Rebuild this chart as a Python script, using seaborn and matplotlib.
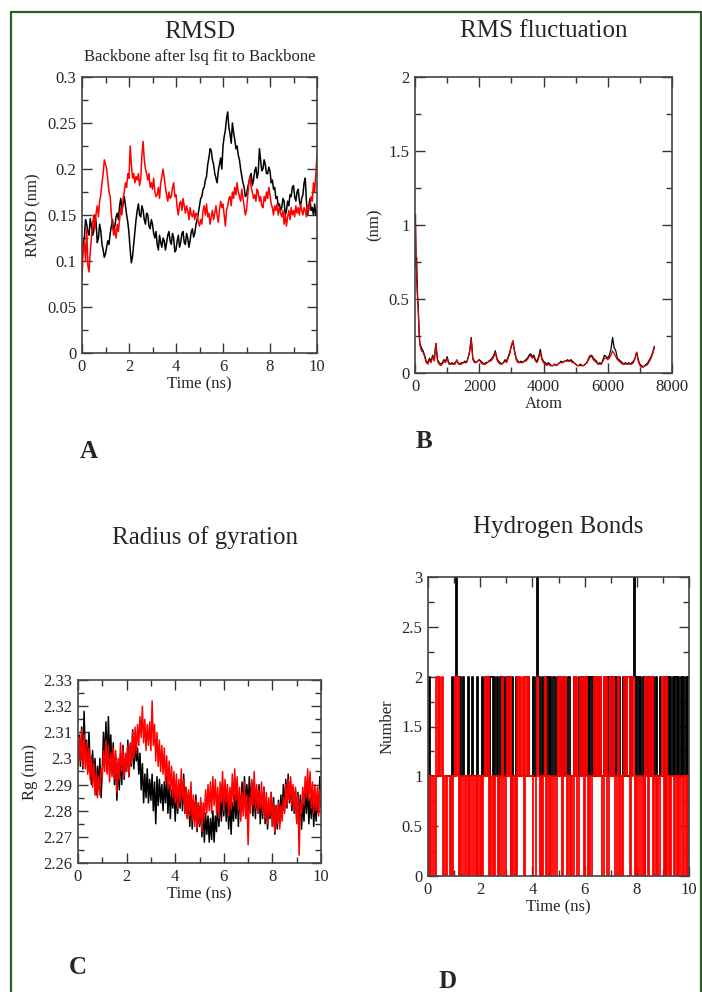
import numpy as np
import matplotlib
matplotlib.use('Agg')
import matplotlib.pyplot as plt
import seaborn as sns
from matplotlib.ticker import MultipleLocator, FormatStrFormatter
from matplotlib.lines import Line2D

# ---- A: RMSD (nm), one value every 0.05 ns ----
rmsd_black = [
    0.100, 0.118, 0.125, 0.145, 0.140, 0.132, 0.128, 0.146, 0.138, 0.128,
    0.132, 0.150, 0.142, 0.120, 0.125, 0.140, 0.133, 0.118, 0.112, 0.104,
    0.108, 0.115, 0.122, 0.118, 0.130, 0.138, 0.145, 0.132, 0.138, 0.148,
    0.152, 0.145, 0.160, 0.168, 0.155, 0.162, 0.170, 0.160, 0.150, 0.142,
    0.130, 0.112, 0.098, 0.105, 0.118, 0.130, 0.145, 0.155, 0.162, 0.150,
    0.148, 0.160, 0.155, 0.145, 0.140, 0.152, 0.150, 0.138, 0.135, 0.145,
    0.140, 0.130, 0.125, 0.132, 0.118, 0.112, 0.128, 0.120, 0.115, 0.125,
    0.122, 0.112, 0.120, 0.128, 0.132, 0.122, 0.118, 0.130, 0.125, 0.110,
    0.112, 0.122, 0.128, 0.115, 0.120, 0.130, 0.132, 0.120, 0.118, 0.130,
    0.125, 0.115, 0.122, 0.132, 0.135, 0.126, 0.130, 0.140, 0.145, 0.152,
    0.160, 0.168, 0.170, 0.178, 0.180, 0.188, 0.192, 0.205, 0.212, 0.222,
    0.220, 0.210, 0.205, 0.195, 0.190, 0.185, 0.198, 0.205, 0.212, 0.200,
    0.225, 0.235, 0.242, 0.255, 0.262, 0.245, 0.238, 0.228, 0.250, 0.240,
    0.232, 0.222, 0.225, 0.215, 0.210, 0.200, 0.192, 0.185, 0.180, 0.170,
    0.172, 0.180, 0.185, 0.192, 0.195, 0.182, 0.188, 0.198, 0.202, 0.190,
    0.196, 0.222, 0.210, 0.198, 0.200, 0.210, 0.205, 0.195, 0.195, 0.202,
    0.198, 0.185, 0.188, 0.178, 0.180, 0.168, 0.170, 0.160, 0.162, 0.155,
    0.158, 0.168, 0.165, 0.150, 0.155, 0.165, 0.160, 0.172, 0.170, 0.180,
    0.182, 0.170, 0.165, 0.175, 0.178, 0.165, 0.160, 0.168, 0.172, 0.185,
    0.190, 0.165, 0.150, 0.160, 0.168, 0.155, 0.158, 0.150, 0.162, 0.150,
    0.155]
rmsd_red = [
    0.080, 0.112, 0.120, 0.100, 0.135, 0.095, 0.088, 0.110, 0.125, 0.140,
    0.150, 0.135, 0.152, 0.160, 0.148, 0.165, 0.172, 0.185, 0.195, 0.210,
    0.205, 0.200, 0.188, 0.175, 0.170, 0.150, 0.138, 0.128, 0.135, 0.125,
    0.140, 0.132, 0.145, 0.158, 0.150, 0.168, 0.175, 0.185, 0.180, 0.195,
    0.190, 0.225, 0.205, 0.190, 0.195, 0.185, 0.192, 0.188, 0.195, 0.182,
    0.190, 0.215, 0.230, 0.210, 0.200, 0.195, 0.188, 0.195, 0.180, 0.185,
    0.178, 0.190, 0.175, 0.170, 0.172, 0.180, 0.168, 0.185, 0.192, 0.200,
    0.190, 0.180, 0.172, 0.165, 0.175, 0.168, 0.170, 0.180, 0.185, 0.170,
    0.172, 0.158, 0.150, 0.162, 0.165, 0.155, 0.168, 0.160, 0.152, 0.160,
    0.155, 0.145, 0.158, 0.150, 0.148, 0.155, 0.145, 0.152, 0.150, 0.142,
    0.138, 0.145, 0.140, 0.155, 0.160, 0.150, 0.162, 0.148, 0.152, 0.140,
    0.148, 0.155, 0.145, 0.152, 0.160, 0.150, 0.142, 0.155, 0.165, 0.158,
    0.162, 0.150, 0.138, 0.155, 0.160, 0.168, 0.170, 0.160, 0.175, 0.168,
    0.180, 0.172, 0.185, 0.175, 0.170, 0.165, 0.178, 0.168, 0.160, 0.150,
    0.155, 0.170, 0.185, 0.192, 0.180, 0.175, 0.168, 0.172, 0.165, 0.178,
    0.175, 0.165, 0.170, 0.160, 0.158, 0.170, 0.165, 0.175, 0.168, 0.180,
    0.172, 0.162, 0.158, 0.150, 0.160, 0.155, 0.162, 0.150, 0.158, 0.152,
    0.148, 0.155, 0.140, 0.150, 0.138, 0.148, 0.155, 0.145, 0.158, 0.150,
    0.155, 0.148, 0.160, 0.152, 0.158, 0.150, 0.162, 0.155, 0.150, 0.158,
    0.155, 0.148, 0.160, 0.155, 0.162, 0.170, 0.165, 0.185, 0.175, 0.195,
    0.215]

# ---- B: RMS fluctuation per atom ----
rmsf_atom = [0, 15, 30, 50, 75, 100, 125, 150] + list(range(200, 7451, 50))
rmsf_black = [0.95, 1.07, 0.72, 0.78, 0.55, 0.45, 0.30, 0.20,
    0.17, 0.15, 0.12, 0.08, 0.07, 0.10, 0.08, 0.12, 0.09, 0.20,
    0.09, 0.07, 0.06, 0.07, 0.09, 0.08, 0.11, 0.07, 0.06, 0.07,
    0.06, 0.07, 0.08, 0.07, 0.06, 0.07, 0.07, 0.08, 0.07, 0.10,
    0.14, 0.24, 0.10, 0.08, 0.07, 0.08, 0.09, 0.08, 0.07, 0.06,
    0.07, 0.07, 0.08, 0.09, 0.10, 0.12, 0.15, 0.10, 0.08, 0.07,
    0.06, 0.07, 0.09, 0.08, 0.11, 0.14, 0.18, 0.21, 0.15, 0.10,
    0.08, 0.07, 0.08, 0.07, 0.08, 0.09, 0.10, 0.12, 0.13, 0.11,
    0.12, 0.09, 0.08, 0.11, 0.16, 0.10, 0.08, 0.07, 0.06, 0.07,
    0.06, 0.05, 0.05, 0.06, 0.05, 0.06, 0.07, 0.08, 0.07, 0.08,
    0.08, 0.09, 0.08, 0.09, 0.08, 0.07, 0.06, 0.05, 0.05, 0.06,
    0.05, 0.05, 0.06, 0.07, 0.09, 0.11, 0.12, 0.10, 0.09, 0.08,
    0.06, 0.07, 0.06, 0.09, 0.12, 0.11, 0.10, 0.12, 0.16, 0.24,
    0.17, 0.15, 0.10, 0.09, 0.08, 0.07, 0.06, 0.07, 0.06, 0.07,
    0.06, 0.07, 0.08, 0.10, 0.14, 0.09, 0.06, 0.05, 0.04, 0.05,
    0.06, 0.07, 0.09, 0.11, 0.14, 0.18]
rmsf_red = [0.90, 1.00, 0.85, 0.62, 0.52, 0.42, 0.28, 0.19,
    0.15, 0.14, 0.11, 0.07, 0.06, 0.09, 0.07, 0.11, 0.08, 0.20,
    0.08, 0.06, 0.05, 0.06, 0.08, 0.07, 0.10, 0.06, 0.06, 0.06,
    0.06, 0.06, 0.09, 0.06, 0.06, 0.06, 0.07, 0.07, 0.07, 0.10,
    0.15, 0.23, 0.09, 0.07, 0.07, 0.08, 0.09, 0.07, 0.06, 0.06,
    0.06, 0.07, 0.08, 0.08, 0.09, 0.11, 0.14, 0.09, 0.07, 0.06,
    0.06, 0.07, 0.08, 0.07, 0.10, 0.13, 0.19, 0.22, 0.14, 0.09,
    0.07, 0.07, 0.07, 0.07, 0.08, 0.08, 0.09, 0.11, 0.12, 0.10,
    0.11, 0.08, 0.07, 0.10, 0.14, 0.09, 0.07, 0.06, 0.05, 0.06,
    0.05, 0.05, 0.05, 0.06, 0.05, 0.06, 0.07, 0.07, 0.07, 0.08,
    0.08, 0.08, 0.08, 0.08, 0.07, 0.07, 0.06, 0.05, 0.05, 0.05,
    0.05, 0.05, 0.06, 0.07, 0.10, 0.12, 0.11, 0.09, 0.08, 0.07,
    0.06, 0.06, 0.06, 0.08, 0.10, 0.10, 0.09, 0.10, 0.12, 0.15,
    0.13, 0.11, 0.09, 0.08, 0.07, 0.06, 0.06, 0.06, 0.06, 0.06,
    0.06, 0.06, 0.07, 0.10, 0.14, 0.08, 0.05, 0.04, 0.04, 0.05,
    0.05, 0.06, 0.08, 0.10, 0.13, 0.17]

# ---- C: radius of gyration (nm), every 0.05 ns ----
rg_black = [
    2.300, 2.309, 2.297, 2.312, 2.296, 2.318, 2.301, 2.307, 2.295, 2.310,
    2.298, 2.290, 2.303, 2.292, 2.300, 2.286, 2.297, 2.289, 2.300, 2.285,
    2.296, 2.310, 2.298, 2.314, 2.295, 2.316, 2.300, 2.309, 2.294, 2.306,
    2.290, 2.301, 2.284, 2.298, 2.288, 2.302, 2.290, 2.305, 2.292, 2.300,
    2.295, 2.307, 2.293, 2.305, 2.297, 2.311, 2.296, 2.306, 2.299, 2.304,
    2.294, 2.302, 2.288, 2.298, 2.283, 2.294, 2.285, 2.296, 2.283, 2.292,
    2.284, 2.294, 2.280, 2.291, 2.275, 2.293, 2.282, 2.292, 2.283, 2.290,
    2.280, 2.291, 2.283, 2.293, 2.279, 2.290, 2.277, 2.288, 2.281, 2.290,
    2.276, 2.288, 2.279, 2.290, 2.281, 2.292, 2.280, 2.294, 2.279, 2.289,
    2.277, 2.287, 2.274, 2.285, 2.273, 2.284, 2.276, 2.286, 2.272, 2.283,
    2.274, 2.283, 2.270, 2.280, 2.268, 2.279, 2.271, 2.278, 2.268, 2.277,
    2.269, 2.280, 2.268, 2.278, 2.272, 2.284, 2.274, 2.286, 2.276, 2.287,
    2.278, 2.289, 2.276, 2.287, 2.273, 2.285, 2.271, 2.283, 2.276, 2.286,
    2.277, 2.287, 2.274, 2.286, 2.279, 2.291, 2.280, 2.293, 2.282, 2.290,
    2.280, 2.293, 2.282, 2.291, 2.278, 2.290, 2.277, 2.288, 2.279, 2.290,
    2.275, 2.286, 2.277, 2.289, 2.275, 2.284, 2.273, 2.283, 2.277, 2.287,
    2.274, 2.285, 2.271, 2.282, 2.273, 2.284, 2.275, 2.286, 2.278, 2.290,
    2.280, 2.292, 2.281, 2.294, 2.283, 2.291, 2.280, 2.289, 2.279, 2.288,
    2.276, 2.287, 2.275, 2.286, 2.273, 2.284, 2.276, 2.289, 2.279, 2.290,
    2.275, 2.285, 2.277, 2.288, 2.274, 2.284, 2.276, 2.286, 2.279, 2.293,
    2.281]
rg_red = [
    2.296, 2.308, 2.299, 2.311, 2.297, 2.309, 2.296, 2.306, 2.294, 2.304,
    2.292, 2.301, 2.289, 2.298, 2.286, 2.295, 2.285, 2.293, 2.286, 2.296,
    2.293, 2.303, 2.295, 2.307, 2.294, 2.305, 2.291, 2.302, 2.293, 2.304,
    2.292, 2.303, 2.287, 2.300, 2.292, 2.306, 2.295, 2.304, 2.293, 2.302,
    2.295, 2.305, 2.293, 2.306, 2.298, 2.310, 2.300, 2.312, 2.302, 2.313,
    2.305, 2.316, 2.308, 2.320, 2.306, 2.315, 2.303, 2.313, 2.305, 2.314,
    2.303, 2.322, 2.305, 2.313, 2.299, 2.310, 2.297, 2.307, 2.295, 2.305,
    2.294, 2.304, 2.291, 2.301, 2.289, 2.299, 2.287, 2.297, 2.285, 2.295,
    2.283, 2.294, 2.281, 2.292, 2.283, 2.296, 2.284, 2.292, 2.279, 2.289,
    2.277, 2.288, 2.278, 2.291, 2.276, 2.286, 2.274, 2.284, 2.273, 2.283,
    2.275, 2.285, 2.272, 2.283, 2.277, 2.288, 2.279, 2.290, 2.280, 2.291,
    2.279, 2.293, 2.282, 2.292, 2.279, 2.289, 2.277, 2.291, 2.283, 2.295,
    2.280, 2.292, 2.283, 2.290, 2.278, 2.289, 2.281, 2.294, 2.282, 2.296,
    2.284, 2.293, 2.280, 2.289, 2.276, 2.287, 2.278, 2.291, 2.277, 2.286,
    2.267, 2.285, 2.279, 2.292, 2.282, 2.295, 2.281, 2.290, 2.279, 2.288,
    2.281, 2.291, 2.279, 2.289, 2.277, 2.287, 2.275, 2.285, 2.278, 2.287,
    2.274, 2.283, 2.272, 2.282, 2.275, 2.283, 2.273, 2.282, 2.276, 2.285,
    2.279, 2.290, 2.282, 2.292, 2.284, 2.293, 2.282, 2.290, 2.280, 2.289,
    2.275, 2.286, 2.263, 2.283, 2.279, 2.289, 2.282, 2.293, 2.285, 2.296,
    2.284, 2.295, 2.281, 2.291, 2.279, 2.290, 2.280, 2.289, 2.278, 2.288,
    2.284]

# ---- D: number of hydrogen bonds, every 0.05 ns ----
hb_black = [
    1, 2, 1, 1, 1, 1, 1, 1, 1, 1,
    1, 1, 1, 1, 1, 1, 1, 1, 1, 2,
    1, 2, 3, 2, 1, 2, 1, 2, 1, 1,
    1, 2, 1, 1, 2, 1, 1, 1, 2, 1,
    1, 1, 2, 1, 2, 1, 2, 1, 2, 2,
    1, 2, 1, 2, 1, 1, 2, 1, 2, 1,
    2, 1, 2, 1, 0, 2, 1, 1, 2, 1,
    1, 1, 1, 1, 1, 1, 1, 2, 1, 1,
    1, 2, 1, 2, 3, 2, 1, 1, 2, 1,
    2, 1, 2, 1, 2, 1, 2, 2, 1, 2,
    1, 1, 2, 1, 1, 2, 1, 1, 2, 1,
    1, 1, 2, 1, 1, 1, 2, 1, 2, 1,
    1, 2, 1, 2, 1, 2, 1, 2, 1, 2,
    2, 1, 2, 1, 1, 2, 1, 1, 2, 1,
    1, 2, 1, 1, 2, 1, 1, 2, 1, 1,
    2, 1, 2, 1, 1, 2, 1, 2, 3, 2,
    1, 2, 1, 2, 1, 2, 0, 2, 1, 2,
    1, 2, 1, 2, 1, 2, 1, 1, 2, 1,
    1, 2, 0, 1, 2, 1, 2, 1, 2, 1,
    2, 1, 2, 1, 2, 1, 2, 1, 2, 1,
    2]
hb_red = [
    1, 0, 1, 0, 1, 1, 0, 2, 1, 2,
    1, 2, 0, 1, 0, 1, 1, 0, 1, 0,
    1, 2, 1, 2, 0, 1, 0, 1, 1, 0,
    1, 0, 1, 0, 1, 1, 0, 1, 0, 1,
    0, 1, 0, 1, 2, 1, 2, 0, 1, 0,
    1, 0, 1, 1, 0, 1, 0, 2, 1, 0,
    1, 2, 1, 2, 0, 1, 0, 1, 0, 2,
    1, 2, 1, 2, 0, 2, 1, 2, 1, 1,
    1, 0, 0, 1, 2, 1, 0, 1, 0, 1,
    2, 0, 1, 0, 1, 0, 1, 1, 0, 1,
    2, 1, 2, 0, 1, 2, 1, 0, 1, 0,
    1, 0, 2, 1, 2, 0, 1, 2, 1, 2,
    0, 2, 1, 0, 1, 0, 1, 1, 2, 1,
    2, 1, 2, 1, 0, 2, 1, 2, 0, 1,
    2, 1, 2, 1, 0, 1, 2, 0, 1, 0,
    1, 2, 1, 2, 2, 0, 1, 2, 1, 0,
    1, 0, 1, 1, 0, 1, 0, 2, 1, 0,
    2, 1, 2, 0, 1, 0, 1, 0, 1, 1,
    2, 0, 1, 2, 0, 1, 0, 1, 1, 0,
    1, 0, 1, 0, 1, 1, 0, 1, 0, 1,
    0]

time_ns = np.round(np.arange(len(rmsd_black)) * 0.05, 2)

sns.set_style('ticks')
plt.rcParams['font.family'] = ['Liberation Serif', 'DejaVu Serif']

W, H = 702, 992
fig = plt.figure(figsize=(W / 100, H / 100), dpi=100)


def add_panel(l, t, r, b):
    # pixel box -> figure fraction
    return fig.add_axes([l / W, 1 - b / H, (r - l) / W, (b - t) / H])


def style(ax, xlim, ylim, xmaj, ymaj, xlabel, ylabel):
    ax.set_xlim(*xlim)
    ax.set_ylim(*ylim)
    ax.xaxis.set_major_locator(MultipleLocator(xmaj))
    ax.xaxis.set_minor_locator(MultipleLocator(xmaj / 2))
    ax.yaxis.set_major_locator(MultipleLocator(ymaj))
    ax.yaxis.set_minor_locator(MultipleLocator(ymaj / 2))
    ax.xaxis.set_major_formatter(FormatStrFormatter('%g'))
    ax.yaxis.set_major_formatter(FormatStrFormatter('%g'))
    ax.tick_params(which='both', direction='in', top=True, right=True,
                   labelsize=12, color='#333333', width=1)
    ax.tick_params(which='major', length=7, pad=4)
    ax.tick_params(which='minor', length=4.5)
    for s in ax.spines.values():
        s.set_linewidth(1.2)
        s.set_color('#444444')
        s.set_zorder(5)
    ax.set_xlabel(xlabel, fontsize=12, labelpad=1)
    ax.set_ylabel(ylabel, fontsize=12, labelpad=4)


def trace(ax, x, y, color, lw=1.1, **kw):
    sns.lineplot(x=x, y=y, ax=ax, color=color, linewidth=lw,
                 estimator=None, sort=False, **kw)


# A
axA = add_panel(82, 77, 317, 353)
trace(axA, time_ns, rmsd_black, 'black')
trace(axA, time_ns, rmsd_red, 'red')
style(axA, (0, 10), (0, 0.3), 2, 0.05, 'Time (ns)', 'RMSD (nm)')

# B
axB = add_panel(415, 77, 672, 373)
trace(axB, rmsf_atom, rmsf_black, 'black', lw=0.9)
trace(axB, rmsf_atom, rmsf_red, '#d40000', lw=0.9)
style(axB, (0, 8000), (0, 2), 2000, 0.5, 'Atom', '(nm)')

# C
axC = add_panel(78, 680, 321, 863)
trace(axC, time_ns, rg_black, 'black')
trace(axC, time_ns, rg_red, 'red')
style(axC, (0, 10), (2.26, 2.33), 2, 0.01, 'Time (ns)', 'Rg (nm)')

# D
axD = add_panel(428, 577, 689, 876)
trace(axD, time_ns, hb_black, 'black', lw=1.3, drawstyle='steps-mid')
trace(axD, time_ns, hb_red, 'red', lw=1.3, drawstyle='steps-mid')
style(axD, (0, 10), (0, 3), 2, 0.5, 'Time (ns)', 'Number')

# titles and panel letters
def ftext(x, y, s, **kw):
    fig.text(x / W, 1 - y / H, s, ha='center', va='center', **kw)

ftext(200, 32, 'RMSD', fontsize=18)
ftext(200, 57, 'Backbone after lsq fit to Backbone', fontsize=12)
ftext(544, 31, 'RMS fluctuation', fontsize=18)
ftext(205, 538, 'Radius of gyration', fontsize=18)
ftext(558, 527, 'Hydrogen Bonds', fontsize=18)
ftext(89, 451, 'A', fontsize=18, fontweight='bold')
ftext(424, 441, 'B', fontsize=18, fontweight='bold')
ftext(78, 968, 'C', fontsize=18, fontweight='bold')
ftext(448, 981, 'D', fontsize=18, fontweight='bold')

# green frame around the figure
green = '#2e5e2a'
for xs, ys in [((10.5, 10.5), (11.5, H + 5)),
               ((10.5, 700.5), (11.5, 11.5)),
               ((700.5, 700.5), (11.5, H + 5))]:
    fig.add_artist(Line2D([x / W for x in xs], [1 - y / H for y in ys],
                          color=green, linewidth=1.6))

fig.savefig('out.png', dpi=100)
